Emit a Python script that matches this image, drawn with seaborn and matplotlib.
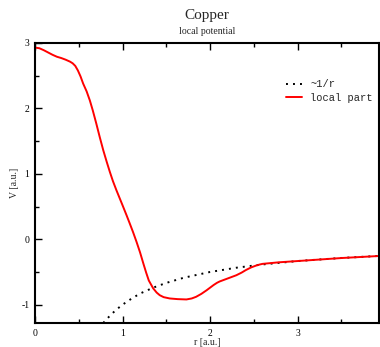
import matplotlib
matplotlib.use("Agg")
import matplotlib.pyplot as plt
import pandas as pd
import seaborn as sns
from matplotlib.ticker import MultipleLocator

# local part of the pseudopotential
r_local = [0.0, 0.05, 0.10, 0.15, 0.20, 0.25, 0.30, 0.35, 0.40, 0.43, 0.46, 0.49,
           0.52, 0.55, 0.59, 0.627, 0.66, 0.70, 0.74, 0.78, 0.82, 0.855, 0.89, 0.93,
           0.965, 1.0, 1.045, 1.08, 1.12, 1.16, 1.20, 1.24, 1.27, 1.30, 1.35, 1.39,
           1.425, 1.47, 1.54, 1.63, 1.73, 1.79, 1.84, 1.90, 1.96, 2.00, 2.04, 2.08,
           2.11, 2.16, 2.22, 2.30, 2.36, 2.41, 2.47, 2.53, 2.57, 2.60, 2.79, 3.0,
           3.5, 3.94]
v_local = [2.93, 2.92, 2.89, 2.855, 2.82, 2.79, 2.77, 2.745, 2.715, 2.69, 2.65, 2.58,
           2.49, 2.38, 2.26, 2.12, 1.97, 1.77, 1.56, 1.36, 1.18, 1.03, 0.89, 0.75,
           0.635, 0.52, 0.37, 0.25, 0.11, -0.04, -0.20, -0.38, -0.51, -0.63, -0.75, -0.815,
           -0.855, -0.885, -0.905, -0.915, -0.92, -0.905, -0.88, -0.835, -0.78, -0.74, -0.70, -0.665,
           -0.645, -0.62, -0.59, -0.55, -0.51, -0.47, -0.43, -0.40, -0.385, -0.376, -0.352, -0.333,
           -0.287, -0.255]

# ~1/r reference curve
r_coul = [0.78, 0.82, 0.87, 0.93, 1.0, 1.1, 1.2, 1.35, 1.5, 1.7, 2.0, 2.3, 2.6, 3.0, 3.5, 3.94]
v_coul = [-1.28, -1.22, -1.15, -1.075, -1.0, -0.91, -0.83, -0.74, -0.667, -0.588, -0.5,
          -0.435, -0.385, -0.333, -0.286, -0.254]

sns.set_theme(style="ticks")
plt.rcParams["font.family"] = ["Liberation Serif", "DejaVu Serif"]
plt.rcParams["axes.unicode_minus"] = False

fig = plt.figure(figsize=(3.8, 3.47), dpi=100)
ax = fig.add_axes([35 / 380, (347 - 323) / 347, (379 - 35) / 380, (323 - 43) / 347])

coul = pd.DataFrame({"r": r_coul, "V": v_coul})
loc = pd.DataFrame({"r": r_local, "V": v_local})
sns.lineplot(data=coul, x="r", y="V", ax=ax, color="black", lw=1.4,
             linestyle=(0, (1, 2.6)), sort=False, label="~1/r")
sns.lineplot(data=loc, x="r", y="V", ax=ax, color="#ff0000", lw=1.4,
             sort=False, label="local part")

ax.set_xlim(0, 3.93)
ax.set_ylim(-1.28, 3)
ax.xaxis.set_major_locator(MultipleLocator(1))
ax.xaxis.set_minor_locator(MultipleLocator(0.5))
ax.yaxis.set_major_locator(MultipleLocator(1))
ax.yaxis.set_minor_locator(MultipleLocator(0.5))
ax.tick_params(which="both", direction="in", top=True, right=False,
               labelsize=7, colors="black", width=1, pad=4)
ax.tick_params(which="major", length=5)
ax.tick_params(which="minor", length=3)
for s in ax.spines.values():
    s.set_visible(True)
    s.set_linewidth(1.5)
    s.set_color("black")

ax.set_xlabel("r [a.u.]", fontsize=7, labelpad=0)
ax.set_ylabel("V [a.u.]", fontsize=7, labelpad=2)

fig.text(207 / 380, 1 - 15 / 347, "Copper", ha="center", va="center", fontsize=11)
fig.text(207 / 380, 1 - 31 / 347, "local potential", ha="center", va="center", fontsize=7)

leg = ax.legend(loc="upper left", bbox_to_anchor=(0.73, 0.87), frameon=False,
                borderpad=0, borderaxespad=0,
                prop={"family": "Liberation Mono", "size": 7.5},
                handlelength=1.5, handletextpad=0.8, labelspacing=0.3)

fig.savefig("out.png", dpi=100)
